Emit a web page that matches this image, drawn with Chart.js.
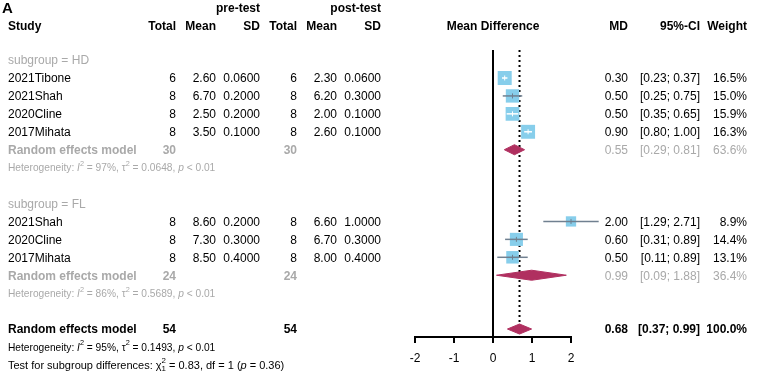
<!DOCTYPE html>
<html>
<head>
<meta charset="utf-8">
<script src="https://cdn.jsdelivr.net/npm/chart.js@4.4.0/dist/chart.umd.min.js"></script>
<style>
  html, body { margin: 0; padding: 0; background: #fff; }
  canvas { display: block; }
</style>
</head>
<body>
<canvas id="forest" width="760" height="374"></canvas>
<script>
// === Study level data ===
const studies   = ["2021Tibone", "2021Shah", "2020Cline", "2017Mihata", "2021Shah", "2020Cline", "2017Mihata"];
const subgroup  = ["HD", "HD", "HD", "HD", "FL", "FL", "FL"];
const preTotal  = [6, 8, 8, 8, 8, 8, 8];
const preMean   = [2.60, 6.70, 2.50, 3.50, 8.60, 7.30, 8.50];
const preSD     = [0.06, 0.20, 0.20, 0.10, 0.20, 0.30, 0.40];
const postTotal = [6, 8, 8, 8, 8, 8, 8];
const postMean  = [2.30, 6.20, 2.00, 2.60, 6.60, 6.70, 8.00];
const postSD    = [0.06, 0.30, 0.10, 0.10, 1.00, 0.30, 0.40];
const md        = [0.30, 0.50, 0.50, 0.90, 2.00, 0.60, 0.50];
const ciLow     = [0.23, 0.25, 0.35, 0.80, 1.29, 0.31, 0.11];
const ciHigh    = [0.37, 0.75, 0.65, 1.00, 2.71, 0.89, 0.89];
const weight    = [16.5, 15.0, 15.9, 16.3, 8.9, 14.4, 13.1];

// === Subgroup pooled results ===
const groups      = ["HD", "FL"];
const groupN      = [30, 24];
const groupMD     = [0.55, 0.99];
const groupLow    = [0.29, 0.09];
const groupHigh   = [0.81, 1.88];
const groupWeight = [63.6, 36.4];
const groupI2     = [97, 86];
const groupTau2   = [0.0648, 0.5689];

// === Overall pooled result ===
const totalN      = 54;
const overallMD   = 0.68;
const overallLow  = 0.37;
const overallHigh = 0.99;
const overallI2   = 95;
const overallTau2 = 0.1493;
const testChi2    = 0.83;
const testDf      = 1;
const testP       = 0.36;

const xTicks = [-2, -1, 0, 1, 2];

// === Look ===
const FONT = "'Liberation Sans', Arial, sans-serif";
const GREY = "#a9a9a9";
const SQUARE = "#87ceeb";
const CI_COL = "#708090";
const DIAMOND = "#b03060";
const boxSide = w => 3.45 * Math.sqrt(w);
const diamondHalf = 0.28;   // in row units
const lineTop = 2.44;       // where the vertical lines start (row units)

// === Row layout ===
const rowOf = [];           // row index of each study
const groupRow = [];        // row of each pooled line
const textRows = [];        // {row, kind, ...}
let r = 3;
groups.forEach((g, gi) => {
  textRows.push({ row: r, kind: "sub", g });
  r++;
  studies.forEach((s, i) => {
    if (subgroup[i] === g) { rowOf[i] = r; textRows.push({ row: r, kind: "study", i }); r++; }
  });
  groupRow[gi] = r;
  textRows.push({ row: r, kind: "pooled", gi }); r++;
  textRows.push({ row: r, kind: "het", gi }); r++;
  r++;
});
const overallRow = r;

// === Datasets ===
// CI line is white when it fits inside the square, grey otherwise
const ciInside = (i, chart) => {
  const xs = chart.scales.x;
  const half = boxSide(weight[i]) / 2;
  const c = xs.getPixelForValue(md[i]);
  return xs.getPixelForValue(ciLow[i]) >= c - half && xs.getPixelForValue(ciHigh[i]) <= c + half;
};

const datasets = [];

datasets.push({
  label: "estimate marks",
  data: md.map((v, i) => ({ x: v, y: rowOf[i] })),
  pointStyle: "line",
  rotation: 90,
  pointRadius: 2.5,
  pointBorderWidth: 1,
  pointBorderColor: ctx => ciInside(ctx.dataIndex, ctx.chart) ? "#ffffff" : CI_COL,
  order: 0
});

studies.forEach((s, i) => {
  datasets.push({
    label: "ci" + i,
    data: [{ x: ciLow[i], y: rowOf[i] }, { x: ciHigh[i], y: rowOf[i] }],
    showLine: true,
    pointRadius: 0,
    borderWidth: 1.5,
    borderColor: ctx => ciInside(i, ctx.chart) ? "#ffffff" : CI_COL,
    order: 1
  });
});

datasets.push({
  label: "squares",
  data: md.map((v, i) => ({ x: v, y: rowOf[i] })),
  pointStyle: "rect",
  pointRadius: weight.map(w => boxSide(w) / Math.SQRT2),
  backgroundColor: SQUARE,
  borderWidth: 0,
  order: 2
});

// diamonds: upper half line, lower half line filled back to the upper one
const addDiamond = (name, m, lo, hi, row) => {
  const upper = datasets.length;
  datasets.push({
    label: name + " upper",
    data: [{ x: lo, y: row }, { x: m, y: row - diamondHalf }, { x: hi, y: row }],
    showLine: true, tension: 0, pointRadius: 0, borderWidth: 1,
    borderColor: DIAMOND, order: 3
  });
  datasets.push({
    label: name + " lower",
    data: [{ x: lo, y: row }, { x: m, y: row + diamondHalf }, { x: hi, y: row }],
    showLine: true, tension: 0, pointRadius: 0, borderWidth: 1,
    borderColor: DIAMOND, backgroundColor: DIAMOND, fill: upper, order: 3
  });
};
groups.forEach((g, gi) => addDiamond(g, groupMD[gi], groupLow[gi], groupHigh[gi], groupRow[gi]));
addDiamond("overall", overallMD, overallLow, overallHigh, overallRow);

datasets.push({
  label: "overall line",
  data: [{ x: overallMD, y: lineTop }, { x: overallMD, y: overallRow }],
  showLine: true, pointRadius: 0,
  borderColor: "#000", borderWidth: 2, borderDash: [2, 3],
  order: 4
});

// === Text columns ===
function rich(ctx, parts, x, y, size, color) {
  let cx = x;
  ctx.fillStyle = color;
  ctx.textAlign = "left";
  parts.forEach(p => {
    const small = p.sup || p.sub;
    const s = small ? size * 0.72 : size;
    ctx.font = (p.italic ? "italic " : "") + s + "px " + FONT;
    const dy = p.sup ? -size * 0.45 : p.sub ? size * 0.3 : 0;
    ctx.fillText(p.t, cx, y + dy);
    if (!p.stack) cx += ctx.measureText(p.t).width;
  });
}
const hetParts = (i2, tau2) => [
  { t: "Heterogeneity: " }, { t: "I", italic: true }, { t: "2", sup: true },
  { t: " = " + i2 + "%, " }, { t: "\u03c4" }, { t: "2", sup: true },
  { t: " = " + tau2.toFixed(4) + ", " }, { t: "p", italic: true }, { t: " < 0.01" }
];

const textPlugin = {
  id: "forestText",
  afterDraw(chart) {
    const ctx = chart.ctx;
    const ys = chart.scales.y;
    const xs = chart.scales.x;
    const py = row => ys.getPixelForValue(row) + 1;
    const put = (t, x, row, align, color, bold, size) => {
      ctx.font = (bold ? "bold " : "") + (size || 12) + "px " + FONT;
      ctx.textAlign = align;
      ctx.fillStyle = color;
      ctx.fillText(t, x, py(row));
    };
    ctx.save();
    ctx.textBaseline = "middle";

    // headers
    put("A", 2, 0.1, "left", "#000", true, 15);
    put("pre-test", 260, 0.1, "right", "#000", true);
    put("post-test", 381, 0.1, "right", "#000", true);
    put("Study", 8, 1.1, "left", "#000", true);
    [["Total", 176], ["Mean", 216], ["SD", 260], ["Total", 297], ["Mean", 337], ["SD", 381],
     ["MD", 628], ["95%-CI", 700], ["Weight", 747]].forEach(([t, x]) => put(t, x, 1.1, "right", "#000", true));
    put("Mean Difference", xs.getPixelForValue(0), 1.1, "center", "#000", true);

    const ci = (lo, hi) => "[" + lo.toFixed(2) + "; " + hi.toFixed(2) + "]";

    textRows.forEach(tr => {
      if (tr.kind === "sub") {
        put("subgroup = " + tr.g, 8, tr.row, "left", GREY, false);
      } else if (tr.kind === "study") {
        const i = tr.i;
        put(studies[i], 8, tr.row, "left", "#000");
        put(String(preTotal[i]), 176, tr.row, "right", "#000");
        put(preMean[i].toFixed(2), 216, tr.row, "right", "#000");
        put(preSD[i].toFixed(4), 260, tr.row, "right", "#000");
        put(String(postTotal[i]), 297, tr.row, "right", "#000");
        put(postMean[i].toFixed(2), 337, tr.row, "right", "#000");
        put(postSD[i].toFixed(4), 381, tr.row, "right", "#000");
        put(md[i].toFixed(2), 628, tr.row, "right", "#000");
        put(ci(ciLow[i], ciHigh[i]), 700, tr.row, "right", "#000");
        put(weight[i].toFixed(1) + "%", 747, tr.row, "right", "#000");
      } else if (tr.kind === "pooled") {
        const gi = tr.gi;
        put("Random effects model", 8, tr.row, "left", GREY, true);
        put(String(groupN[gi]), 176, tr.row, "right", GREY, true);
        put(String(groupN[gi]), 297, tr.row, "right", GREY, true);
        put(groupMD[gi].toFixed(2), 628, tr.row, "right", GREY);
        put(ci(groupLow[gi], groupHigh[gi]), 700, tr.row, "right", GREY);
        put(groupWeight[gi].toFixed(1) + "%", 747, tr.row, "right", GREY);
      } else if (tr.kind === "het") {
        rich(ctx, hetParts(groupI2[tr.gi], groupTau2[tr.gi]), 8, py(tr.row), 10.2, GREY);
      }
    });

    // overall
    put("Random effects model", 8, overallRow, "left", "#000", true);
    put(String(totalN), 176, overallRow, "right", "#000", true);
    put(String(totalN), 297, overallRow, "right", "#000", true);
    put(overallMD.toFixed(2), 628, overallRow, "right", "#000", true);
    put(ci(overallLow, overallHigh), 700, overallRow, "right", "#000", true);
    put("100.0%", 747, overallRow, "right", "#000", true);
    rich(ctx, hetParts(overallI2, overallTau2), 8, py(overallRow + 1), 10.2, "#000");
    rich(ctx, [
      { t: "Test for subgroup differences: " }, { t: "\u03c7" },
      { t: "2", sup: true, stack: true }, { t: String(testDf), sub: true },
      { t: " = " + testChi2.toFixed(2) + ", df = " + testDf + " (" }, { t: "p", italic: true },
      { t: " = " + testP.toFixed(2) + ")" }
    ], 8, py(overallRow + 2), 11, "#000");

    // re-stroke the x axis in black on top, at the scale's own tick positions
    const yb = chart.chartArea.bottom;
    ctx.strokeStyle = "#000000";
    ctx.lineWidth = 2;
    ctx.setLineDash([]);
    ctx.beginPath();
    ctx.moveTo(xs.getPixelForValue(xTicks[0]) - 1, yb);
    ctx.lineTo(xs.getPixelForValue(xTicks[xTicks.length - 1]) + 1, yb);
    xTicks.forEach(v => {
      const x = xs.getPixelForValue(v);
      ctx.moveTo(x, yb);
      ctx.lineTo(x, yb + 6);
    });
    ctx.stroke();
    ctx.restore();
  }
};

// === Solid reference line at MD = 0 ===
const zeroLinePlugin = {
  id: "zeroLine",
  beforeDatasetsDraw(chart) {
    const ctx = chart.ctx;
    const x = chart.scales.x.getPixelForValue(0);
    ctx.save();
    ctx.strokeStyle = "#000000";
    ctx.lineWidth = 2;
    ctx.beginPath();
    ctx.moveTo(x, chart.scales.y.getPixelForValue(lineTop));
    ctx.lineTo(x, chart.chartArea.bottom);
    ctx.stroke();
    ctx.restore();
  }
};

const chart = new Chart(document.getElementById("forest"), {
  type: "scatter",
  data: { datasets: datasets.map(d => Object.assign({ clip: false }, d)) },
  options: {
    responsive: false,
    animation: false,
    events: [],
    layout: { autoPadding: false, padding: { left: 415, right: 189, top: 0, bottom: 0 } },
    plugins: { legend: { display: false }, tooltip: { enabled: false } },
    scales: {
      x: {
        type: "linear",
        min: xTicks[0],
        max: xTicks[xTicks.length - 1],
        afterBuildTicks: s => { s.ticks = xTicks.map(v => ({ value: v })); },
        afterFit: s => { s.height = 37; },
        grid: { drawOnChartArea: false, drawTicks: true, tickLength: 6, color: "#000000", lineWidth: 2 },
        border: { color: "#000000", width: 2 },
        ticks: { color: "#000", padding: 8, font: { family: FONT, size: 12 } }
      },
      y: {
        type: "linear",
        display: false,
        reverse: true,
        min: -0.35,
        max: 18.445
      }
    }
  },
  plugins: [zeroLinePlugin, textPlugin]
});
</script>
</body>
</html>
